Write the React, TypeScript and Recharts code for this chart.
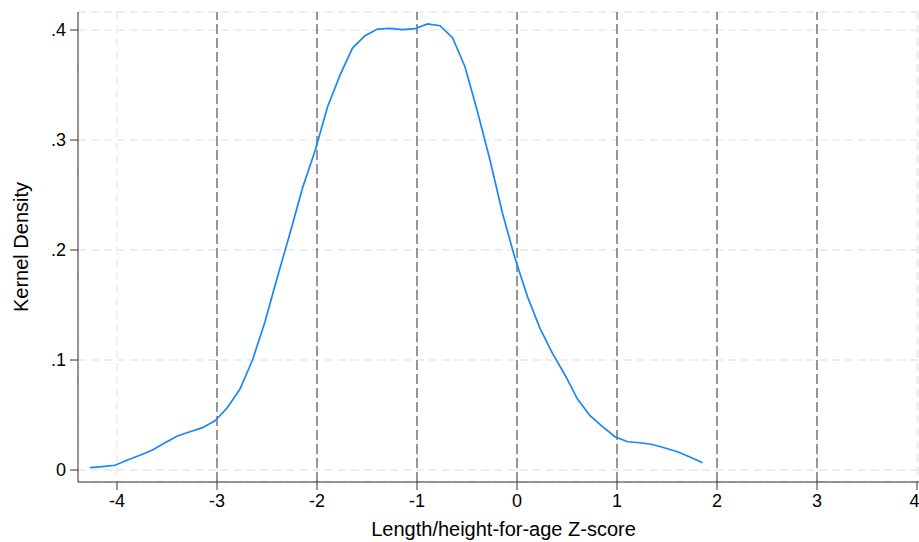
import React from "react"
import { LineChart, Line, XAxis, YAxis, CartesianGrid, ReferenceLine } from "recharts"

// evaluation points of the kernel density (Z-score)
const zScores = [
  -4.27, -4.145, -4.02, -3.895, -3.77, -3.645, -3.52, -3.395, -3.27, -3.145,
  -3.02, -2.895, -2.77, -2.645, -2.52, -2.395, -2.27, -2.145, -2.02, -1.895,
  -1.77, -1.645, -1.52, -1.395, -1.27, -1.145, -1.02, -0.895, -0.77, -0.645,
  -0.52, -0.395, -0.27, -0.145, -0.02, 0.105, 0.23, 0.355, 0.48, 0.605,
  0.73, 0.855, 0.98, 1.105, 1.23, 1.355, 1.48, 1.605, 1.73, 1.855,
]

const densities = [
  0.0021, 0.0031, 0.0043, 0.0091, 0.0134, 0.0182, 0.0248, 0.0309, 0.0348, 0.0385,
  0.0448, 0.0568, 0.0736, 0.1, 0.1348, 0.1757, 0.2152, 0.2564, 0.29, 0.33,
  0.359, 0.3836, 0.3948, 0.4009, 0.4015, 0.4003, 0.4012, 0.4055, 0.4039, 0.393,
  0.3666, 0.3257, 0.2818, 0.2334, 0.1925, 0.1575, 0.1288, 0.1061, 0.0864, 0.0645,
  0.0494, 0.0394, 0.0303, 0.0257, 0.0248, 0.0232, 0.02, 0.0166, 0.0118, 0.0066,
]

const xTicks = [-4, -3, -2, -1, 0, 1, 2, 3, 4]
const yTicks = [0, 0.1, 0.2, 0.3, 0.4]
const cutoffLines = [-3, -2, -1, 0, 1, 2, 3]

const rows = zScores.map((z, i) => ({ z, density: densities[i] }))

const font = "'Liberation Sans', Arial, sans-serif"

const fmtY = (v: number) => (v === 0 ? "0" : String(v).replace(/^0/, ""))

export default function App() {
  return (
    <div style={{ position: "absolute", left: 0, top: 0, width: 919, height: 542, background: "#fff", fontFamily: font }}>
      <LineChart width={919} height={542} data={rows} margin={{ top: 12, right: 0, bottom: 0, left: 0 }}>
        <CartesianGrid stroke="#e8e8e8" strokeWidth={1.3} strokeDasharray="8 5" />
        <XAxis
          type="number"
          dataKey="z"
          domain={[-4.39, 4.02]}
          ticks={xTicks}
          allowDataOverflow
          height={60}
          tickSize={8}
          tickMargin={4}
          stroke="#333"
          tick={{ fill: "#000", fontSize: 18, fontFamily: font }}
          label={{
            content: (p: any) => {
              const vb = p.viewBox
              return (
                <text x={vb.x + vb.width / 2 + 5} y={536} textAnchor="middle" fontSize={20} fontFamily={font} fill="#000">
                  Length/height-for-age Z-score
                </text>
              )
            },
          }}
        />
        <YAxis
          type="number"
          domain={[-0.0109, 0.4164]}
          ticks={yTicks}
          allowDataOverflow
          width={78}
          tickSize={8}
          tickMargin={4}
          stroke="#333"
          tickFormatter={fmtY}
          tick={{ fill: "#000", fontSize: 18, fontFamily: font }}
          label={{
            content: (p: any) => {
              const vb = p.viewBox
              const cy = vb.y + vb.height / 2
              return (
                <text x={21} y={cy} transform={`rotate(-90 21 ${cy})`} textAnchor="middle" dominantBaseline="central" fontSize={20} fontFamily={font} fill="#000">
                  Kernel Density
                </text>
              )
            },
          }}
        />
        {cutoffLines.map((x) => (
          <ReferenceLine key={x} x={x} stroke="#7f7f7f" strokeWidth={1.6} strokeDasharray="10 4" />
        ))}
        <Line
          type="linear"
          dataKey="density"
          stroke="#1a85ff"
          strokeWidth={1.7}
          dot={false}
          isAnimationActive={false}
        />
      </LineChart>
    </div>
  )
}
